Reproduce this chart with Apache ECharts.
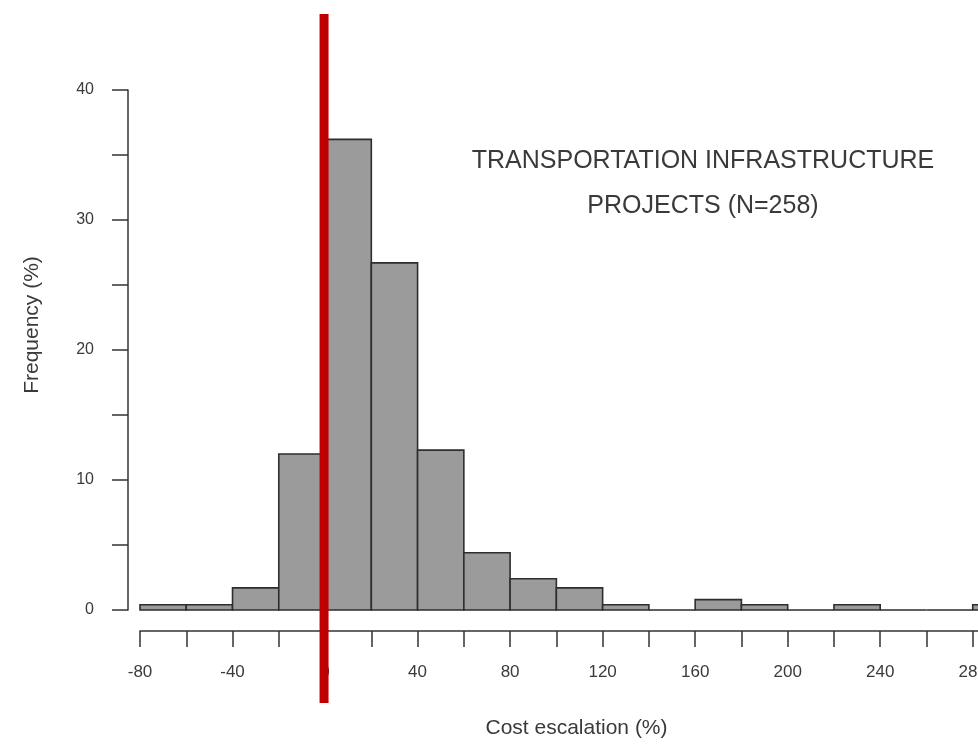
<!DOCTYPE html>
<html>
<head>
<meta charset="utf-8">
<script src="https://cdn.jsdelivr.net/npm/echarts@6/dist/echarts.min.js"></script>
<style>
	html, body { margin: 0; padding: 0; background: #fff; overflow: hidden; }
	/* the plot runs past the right edge of the window, as in the original */
	#main { width: 1030px; height: 744px; }
</style>
</head>
<body>
<div id="main"></div>
<script>
// bins of 20 percentage points, frequency in % of 258 projects
var binStarts = [-80, -60, -40, -20, 0, 20, 40, 60, 80, 100, 120, 140, 160, 180, 200, 220, 240, 260, 280];
var binWidth = 20;
var freq = [0.4, 0.4, 1.7, 12.0, 36.2, 26.7, 12.3, 4.4, 2.4, 1.7, 0.4, 0, 0.8, 0.4, 0, 0.4, 0, 0, 0.4];
var refLine = [0]; // zero cost escalation
var titleLines = ['TRANSPORTATION INFRASTRUCTURE', 'PROJECTS (N=258)'];

var font = '"Liberation Sans", Arial, sans-serif';

var histData = [];
for (var i = 0; i < binStarts.length; i++) {
	histData.push([binStarts[i], binStarts[i] + binWidth, freq[i]]);
}

var myChart = echarts.init(document.getElementById('main'));

var option = {
	backgroundColor: '#fff',
	animation: false,
	grid: {
		left: 140,
		width: 879,
		top: 90,
		height: 522
	},
	graphic: [{
		type: 'text',
		x: 703,
		y: 139,
		style: {
			text: titleLines.join('\n'),
			fill: '#3a3a3a',
			font: '25px ' + font,
			textAlign: 'center',
			lineHeight: 45
		}
	}],
	xAxis: {
		type: 'value',
		min: -80,
		max: 300,
		interval: 20,
		offset: 21,
		name: 'Cost escalation (%)',
		nameLocation: 'middle',
		nameGap: 87,
		nameTextStyle: { fontSize: 21, color: '#3a3a3a', fontFamily: font, padding: [0, 6, 0, 0] },
		splitLine: { show: false },
		axisLine: { show: true, onZero: false, lineStyle: { color: '#333', width: 1.5 } },
		axisTick: { show: true, length: 16, lineStyle: { color: '#333', width: 1.5 } },
		axisLabel: {
			margin: 33,
			fontSize: 17,
			color: '#3a3a3a',
			fontFamily: font,
			formatter: function(v) {
				return v % 40 === 0 ? String(v) : '';
			}
		}
	},
	yAxis: {
		type: 'value',
		min: 0,
		max: 40,
		interval: 5,
		offset: 12,
		name: 'Frequency (%)',
		nameLocation: 'middle',
		nameGap: 85,
		nameTextStyle: { fontSize: 21, color: '#3a3a3a', fontFamily: font, padding: [0, 0, 0, 50] },
		splitLine: { show: false },
		axisLine: { show: true, onZero: false, lineStyle: { color: '#333', width: 1.5 } },
		axisTick: { show: true, length: 16, lineStyle: { color: '#333', width: 1.5 } },
		axisLabel: {
			margin: 34,
			fontSize: 16,
			color: '#3a3a3a',
			fontFamily: font,
			formatter: function(v) {
				return v % 10 === 0 ? String(v) : '';
			}
		}
	},
	series: [{
		type: 'custom',
		name: 'hist',
		data: histData,
		encode: { x: [0, 1], y: 2 },
		renderItem: function(params, api) {
			var p0 = api.coord([api.value(0), 0]);
			var p1 = api.coord([api.value(1), api.value(2)]);
			return {
				type: 'rect',
				shape: { x: p0[0], y: p1[1], width: p1[0] - p0[0], height: p0[1] - p1[1] },
				style: { fill: '#9b9b9b', stroke: '#2e2e2e', lineWidth: 1.6 }
			};
		},
		z: 2
	}, {
		type: 'custom',
		name: 'ref',
		data: refLine.map(function(v) { return [v]; }),
		encode: { x: 0 },
		renderItem: function(params, api) {
			var x = api.coord([api.value(0), 0])[0];
			var cs = params.coordSys;
			return {
				type: 'line',
				shape: { x1: x - 1, y1: cs.y - 76, x2: x - 1, y2: cs.y + cs.height + 93 },
				style: { stroke: '#c00000', lineWidth: 9 }
			};
		},
		z: 5
	}]
};

myChart.setOption(option);
</script>
</body>
</html>
